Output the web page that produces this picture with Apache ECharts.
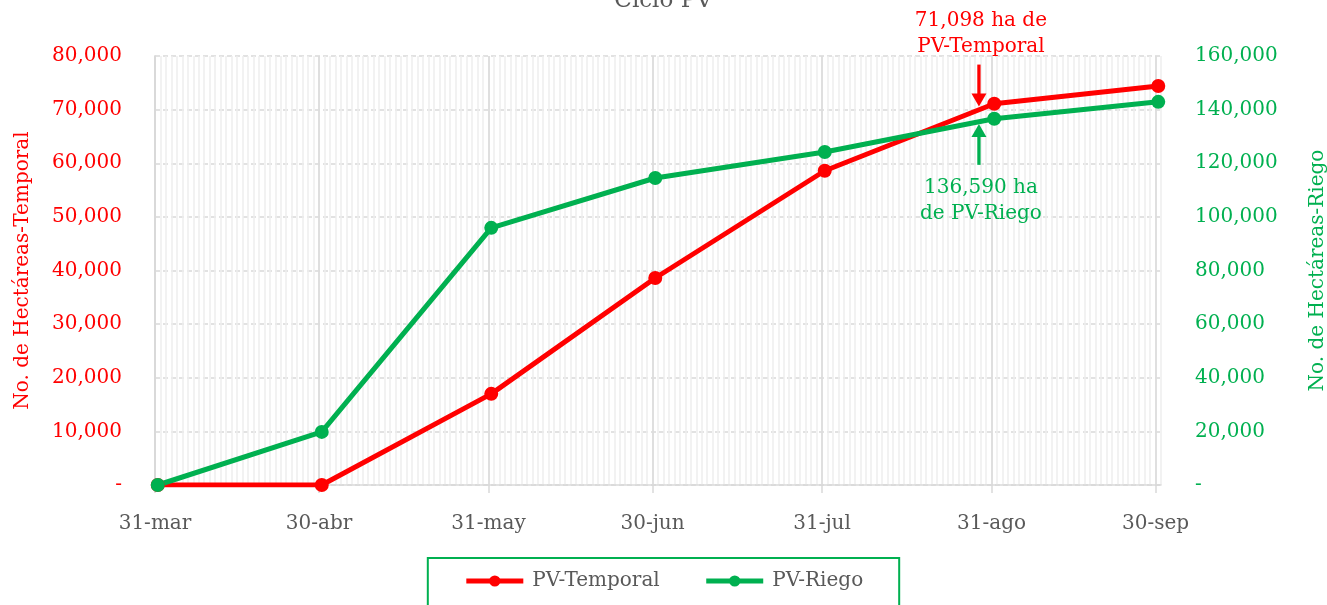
<!DOCTYPE html>
<html>
<head>
<meta charset="utf-8">
<script src="https://cdn.jsdelivr.net/npm/echarts@6/dist/echarts.min.js"></script>
<style>
  html, body { margin: 0; padding: 0; background: #fff; }
  #chart { width: 1327px; height: 605px; }
</style>
</head>
<body>
<div id="chart"></div>
<script>
// ---- Data ----
const dates = ['2023-03-31', '2023-04-30', '2023-05-31', '2023-06-30', '2023-07-31', '2023-08-31', '2023-09-30'];
const tickLabels = ['31-mar', '30-abr', '31-may', '30-jun', '31-jul', '31-ago', '30-sep'];
const temporal = [0, 0, 17000, 38600, 58600, 71098, 74400];
const riego = [0, 19800, 95900, 114500, 124200, 136590, 142900];
const leftTicks = [0, 10000, 20000, 30000, 40000, 50000, 60000, 70000, 80000];
const rightTicks = [0, 20000, 40000, 60000, 80000, 100000, 120000, 140000, 160000];

const axisStart = '2023-03-31';
const axisEnd = '2023-10-01';
const DAY = 86400000;
const dayOf = d => (Date.parse(d) - Date.parse(axisStart)) / DAY;
const tickDays = dates.map(dayOf);
const xMax = dayOf(axisEnd);
const fmt = v => v === 0 ? '-' : v.toLocaleString('en-US');

const RED = '#ff0000', GREEN = '#00b050', GRAY = '#595959';
const FONT = 'DejaVu Serif';
const FS = 20;

const chart = echarts.init(document.getElementById('chart'), null, { renderer: 'canvas' });

const option = {
  animation: false,
  textStyle: { fontFamily: FONT },
  title: {
    text: 'Ciclo PV', left: 'center', top: -15,
    textStyle: { color: GRAY, fontSize: 23, fontWeight: 'normal', fontFamily: FONT }
  },
  legend: {
    bottom: -30, left: 'center',
    padding: [13, 36, 44, 36],
    borderColor: GREEN, borderWidth: 2,
    itemWidth: 57, itemHeight: 14, itemGap: 44,
    lineStyle: { width: 5 },
    textStyle: { color: GRAY, fontSize: FS, fontFamily: FONT, padding: [0, 0, 0, 4] },
    data: ['PV-Temporal', 'PV-Riego']
  },
  grid: { left: 155, right: 166, top: 56, bottom: 120, containLabel: false, outerBoundsMode: 'none' },
  xAxis: [
    {
      type: 'value', min: 0, max: xMax, interval: 1,
      axisLine: { show: false }, axisTick: { show: false }, axisLabel: { show: false },
      splitLine: { show: true, lineStyle: { color: '#eeeeee', width: 1.5 } }
    },
    {
      type: 'value', min: 0, max: xMax, position: 'bottom',
      axisLine: { show: true, lineStyle: { color: '#d9d9d9', width: 1.5 } },
      axisTick: { show: true, customValues: tickDays, length: 8, lineStyle: { color: '#d9d9d9', width: 1.5 } },
      axisLabel: {
        customValues: tickDays, margin: 29, color: GRAY, fontSize: FS, fontFamily: FONT,
        formatter: v => tickLabels[tickDays.indexOf(Math.round(v))] || ''
      },
      splitLine: { show: true, lineStyle: { color: '#d9d9d9', width: 1.5 } }
    }
  ],
  yAxis: [
    {
      type: 'value', min: 0, max: 80000, interval: 10000, position: 'left',
      name: 'No. de Hectáreas-Temporal', nameLocation: 'middle', nameRotate: 90, nameGap: 122,
      nameTextStyle: { color: RED, fontSize: FS, fontFamily: FONT },
      axisLine: { show: true, lineStyle: { color: '#d9d9d9', width: 1.5 } },
      axisTick: { show: false },
      axisLabel: { color: RED, fontSize: FS, margin: 33, fontFamily: FONT, formatter: fmt },
      splitLine: { show: true, lineStyle: { color: '#d9d9d9', width: 1.5, type: [5, 3] } }
    },
    {
      type: 'value', min: 0, max: 160000, interval: 20000, position: 'right',
      name: 'No. de Hectáreas-Riego', nameLocation: 'middle', nameRotate: 90, nameGap: 147,
      nameTextStyle: { color: GREEN, fontSize: FS, fontFamily: FONT },
      axisLine: { show: true, lineStyle: { color: '#d9d9d9', width: 1.5 } },
      axisTick: { show: false },
      axisLabel: { color: GREEN, fontSize: FS, margin: 34, fontFamily: FONT, formatter: fmt },
      splitLine: { show: false }
    }
  ],
  series: [
    {
      name: 'PV-Temporal', type: 'line', xAxisIndex: 0, yAxisIndex: 0,
      data: dates.map((d, i) => [dayOf(d) + 0.5, temporal[i]]),
      symbol: 'circle', symbolSize: 14,
      lineStyle: { color: RED, width: 5 }, itemStyle: { color: RED }
    },
    {
      name: 'PV-Riego', type: 'line', xAxisIndex: 0, yAxisIndex: 1,
      data: dates.map((d, i) => [dayOf(d) + 0.5, riego[i]]),
      symbol: 'circle', symbolSize: 14,
      lineStyle: { color: GREEN, width: 5 }, itemStyle: { color: GREEN }
    }
  ]
};
chart.setOption(option);

// ---- Annotations (positioned via the chart's own scales) ----
const annDay = dayOf('2023-08-28') + 0.7;
const annotations = [
  { yAxisIndex: 0, from: 78400, to: 70600, color: RED, text: fmt(temporal[5]) + ' ha de\nPV-Temporal', textAbove: true },
  { yAxisIndex: 1, from: 119400, to: 134600, color: GREEN, text: fmt(riego[5]) + ' ha\nde PV-Riego', textAbove: false }
];
const elements = [];
annotations.forEach(a => {
  const p0 = chart.convertToPixel({ xAxisIndex: 0, yAxisIndex: a.yAxisIndex }, [annDay, a.from]);
  const p1 = chart.convertToPixel({ xAxisIndex: 0, yAxisIndex: a.yAxisIndex }, [annDay, a.to]);
  const dir = Math.sign(p1[1] - p0[1]);
  const headLen = 13, headHalf = 7.5;
  const base = p1[1] - dir * headLen;
  elements.push({
    type: 'line', z: 100,
    shape: { x1: p0[0], y1: p0[1], x2: p0[0], y2: base + dir },
    style: { stroke: a.color, lineWidth: 3.3 }
  });
  elements.push({
    type: 'polygon', z: 100,
    shape: { points: [[p1[0], p1[1]], [p1[0] - headHalf, base], [p1[0] + headHalf, base]] },
    style: { fill: a.color }
  });
  elements.push({
    type: 'text', z: 100,
    x: p0[0] + 2, y: a.textAbove ? p0[1] - 5 : p0[1] + 10,
    style: {
      text: a.text, fill: a.color, font: FS + 'px "' + FONT + '"',
      align: 'center', verticalAlign: a.textAbove ? 'bottom' : 'top', lineHeight: 26
    }
  });
});
chart.setOption({ graphic: { elements } });
</script>
</body>
</html>
